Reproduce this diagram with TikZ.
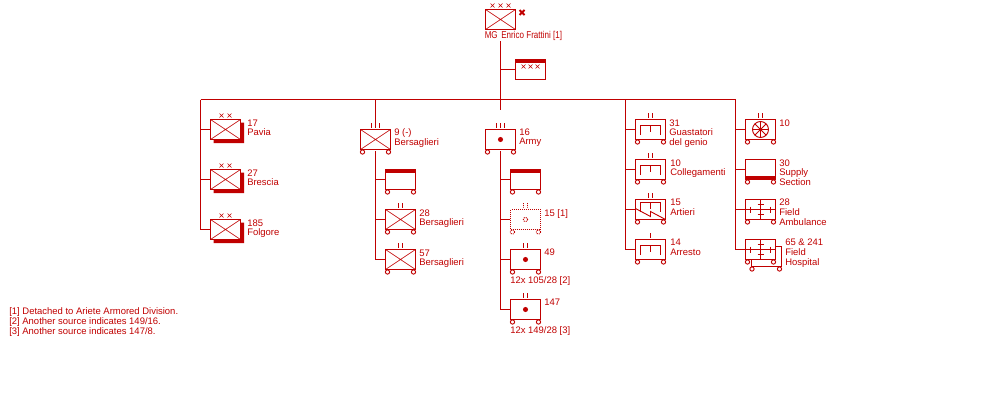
\documentclass[tikz,border=0pt]{standalone}
\usepackage{fontspec}
\setmainfont{Liberation Sans}
\definecolor{ink}{HTML}{C00000}
\tikzset{
  unit/.style={draw=ink,line width=.75pt,minimum width=22.5pt,minimum height=15pt,inner sep=0pt},
  ghost/.style={unit,dash pattern=on .75pt off .75pt},
  conn/.style={draw=ink,line width=.75pt},
  fine/.style={draw=ink,line width=.7pt},
  hair/.style={draw=ink,line width=.45pt},
  lab/.style={text=ink,anchor=north west,inner sep=0pt,align=left,font=\fontsize{7.1}{7.2}\selectfont},
}
\newcommand\U[5][unit]{\begin{scope}[shift={(#3,#4)}]\node[#1] (#2) at (0,0) {};#5\end{scope}}
\newcommand\Wh{\draw[fine] (-13,12.5) circle[radius=1.6pt] (13,12.5) circle[radius=1.6pt];}
\newcommand\Cr{\draw[hair] (-15,-10)--(15,10) (-15,10)--(15,-10);}
\newcommand\Tone{\draw[fine] (0,-16.5)--(0,-12);}
\newcommand\Ttwo{\draw[fine] (-2,-16.5)--(-2,-12) (2,-16.5)--(2,-12);}
\newcommand\Tthree{\draw[fine] (-4,-16.5)--(-4,-12) (0,-16.5)--(0,-12) (4,-16.5)--(4,-12);}
\newcommand\OneX[1]{\draw[hair] (#1-2,-16)--(#1+2,-12) (#1-2,-12)--(#1+2,-16);}
\newcommand\Xtwo{\OneX{-4}\OneX{4}}
\newcommand\Xthree{\draw[hair,shift={(0,-2)}] (-10,-14)--(-6,-10) (-10,-10)--(-6,-14) (-2,-14)--(2,-10) (-2,-10)--(2,-14) (6,-14)--(10,-10) (6,-10)--(10,-14);}
\newcommand\Sh{\fill[ink] (-12,10.5) rectangle (18.5,13.5) (15.5,-7) rectangle (18.5,13.5);}
\newcommand\Tb{\fill[ink] (-15.4,-10.4) rectangle (15.4,-6.5);}
\newcommand\Bb{\fill[ink] (-15.4,6.5) rectangle (15.4,10.4);}
\newcommand\Dt{\fill[ink] (0,0) circle[radius=1.9pt];}
\newcommand\Eng[1][0]{\draw[fine,shift={(0,#1)}] (-10,5.5)--(-10,-4)--(10,-4)--(10,5.5) (0,-4)--(0,2.5);}
\begin{document}
\begin{tikzpicture}[x=.75pt,y=-.75pt]
\useasboundingbox (0,0) rectangle (1000,400);
% top
\U{hq}{500.5}{19.5}{\Cr\Xthree}
\draw[draw=ink,line width=1.4pt] (519.5,10)--(524.5,15) (519.5,15)--(524.5,10);
\node[lab] (hqname) at (484.5,31.5) {\scalebox{.85}[1.05]{MG\, Enrico Frattini [1]}};
\coordinate (topstart) at (500.5,41);
\coordinate (busL) at (200.5,99.5);
\coordinate (busR) at (735.5,99.5);
\U{hqs}{530.5}{69.5}{\Tb\draw[hair] (-9,-5)--(-5,-1) (-9,-1)--(-5,-5) (-2,-5)--(2,-1) (-2,-1)--(2,-5) (5,-5)--(9,-1) (5,-1)--(9,-5);}
\draw[conn] (topstart)--(500.5,110);
\draw[conn] (500.5,69.5)--(hqs.west);
\draw[conn] (busL)--(busR);
% column 1
\U{a1}{225.5}{129.5}{\Sh\Cr\Xtwo}
\U{a2}{225.5}{179.5}{\Sh\Cr\Xtwo}
\U{a3}{225.5}{229.5}{\Sh\Cr\Xtwo}
\draw[conn] (busL)|-(a3.west) (200.5,129.5)--(a1.west) (200.5,179.5)--(a2.west);
\node[lab] (la1) at (247,119.5) {17\\Pavia};
\node[lab] (la2) at (247,169.5) {27\\Brescia};
\node[lab] (la3) at (247,219.5) {185\\Folgore};
% column 2
\U{b0}{375.5}{139.5}{\Cr\Tthree\Wh}
\U{b1}{400.5}{179.5}{\Tb\Wh}
\U{b2}{400.5}{219.5}{\Cr\Ttwo\Wh}
\U{b3}{400.5}{259.5}{\Cr\Ttwo\Wh}
\draw[conn] (375.5,99.5)--(375.5,125);
\draw[conn] (375.5,151)|-(b3.west) (375.5,179.5)--(b1.west) (375.5,219.5)--(b2.west);
\node[lab] (lb0) at (394,128.5) {9 (-)\\Bersaglieri};
\node[lab] (lb2) at (419,209.5) {28\\Bersaglieri};
\node[lab] (lb3) at (419,249.5) {57\\Bersaglieri};
% column 3
\U{c0}{500.5}{139.5}{\Dt\Tthree\Wh}
\U{c1}{525.5}{179.5}{\Tb\Wh}
\U[ghost]{c2}{525.5}{219.5}{\draw[fine,dash pattern=on .75pt off .75pt] (-2,-16.5)--(-2,-12) (2,-16.5)--(2,-12) (0,0) circle[radius=1.6pt] (-13,12.5) circle[radius=1.6pt] (13,12.5) circle[radius=1.6pt];}
\U{c3}{525.5}{259.5}{\Dt\Ttwo\Wh}
\U{c4}{525.5}{309.5}{\Dt\Ttwo\Wh}
\draw[conn] (500.5,151)|-(c4.west) (500.5,179.5)--(c1.west) (500.5,219.5)--(c2.west) (500.5,259.5)--(c3.west);
\node[lab] (lc0) at (519,128.5) {16\\Army};
\node[lab] (lc2) at (544,209) {15 [1]};
\node[lab] (lc3) at (544,249) {49};
\node[lab] (lc3b) at (510,276.5) {12x 105/28 [2]};
\node[lab] (lc4) at (544,299) {147};
\node[lab] (lc4b) at (510,326.5) {12x 149/28 [3]};
% column 4
\U{d1}{650.5}{129.5}{\Eng\Ttwo\Wh}
\U{d2}{650.5}{169.5}{\Eng\Ttwo\Wh}
\U{d3}{650.5}{209.5}{\Eng[-3]\Ttwo\Wh\draw[fine] (-15,-1)--(0,7)--(0,2)--(15,10);}
\U{d4}{650.5}{249.5}{\Eng\Tone\Wh}
\draw[conn] (625.5,99.5)|-(d4.west) (625.5,129.5)--(d1.west) (625.5,169.5)--(d2.west) (625.5,209.5)--(d3.west);
\node[lab] (ld1) at (669,119.5) {31\\Guastatori\\del genio};
\node[lab] (ld2) at (670,159.5) {10\\Collegamenti};
\node[lab] (ld3) at (670,199) {15\\Artieri};
\node[lab] (ld4) at (670,239) {14\\Arresto};
% column 5
\U{e1}{760.5}{129.5}{\Ttwo\Wh\draw[fine] (0,0) circle[radius=6pt] (-8,0)--(8,0) (0,-8)--(0,8) (-5.6,-5.6)--(5.6,5.6) (-5.6,5.6)--(5.6,-5.6);\fill[ink] (0,0) circle[radius=1.2pt];}
\U{e2}{760.5}{169.5}{\Bb\Wh}
\newcommand\Med{\draw[fine] (-15,0)--(15,0) (0,-10)--(0,10) (-10,-3)--(-10,3) (10,-3)--(10,3) (-3,-5)--(3,-5) (-3,5)--(3,5);}
\U{e3}{760.5}{209.5}{\Med\Wh}
\U{e4}{760.5}{249.5}{\Med\Wh\draw[conn] (15,-3.5)--(21,-3.5)--(21,17)--(-9.5,17)--(-9.5,10);\draw[fine] (-8.5,19.5) circle[radius=1.6pt] (19,19.5) circle[radius=1.6pt];}
\draw[conn] (735.5,99.5)|-(e4.west) (735.5,129.5)--(e1.west) (735.5,169.5)--(e2.west) (735.5,209.5)--(e3.west);
\node[lab] (le1) at (779,119.5) {10};
\node[lab] (le2) at (779,159.5) {30\\Supply\\Section};
\node[lab] (le3) at (779,199) {28\\Field\\Ambulance};
\node[lab] (le4) at (785,239) {65 \& 241\\Field\\Hospital};
% notes
\node[lab,font=\fontsize{7.1}{7.5}\selectfont] (notes) at (9,307.5) {[1] Detached to Ariete Armored Division.\\[0pt][2] Another source indicates 149/16.\\[0pt][3] Another source indicates 147/8.};
\end{tikzpicture}
\end{document}
